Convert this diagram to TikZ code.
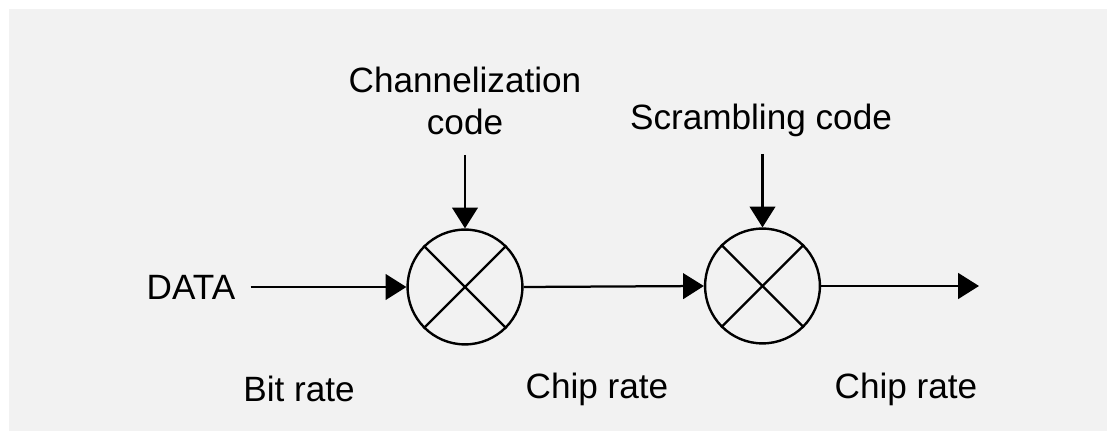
\documentclass[tikz,border=0pt]{standalone}
\usepackage{fontspec}
\setmainfont{Liberation Sans}
\usetikzlibrary{arrows.meta}
\tikzset{
	mixer/.style={draw,circle,line width=1.7pt,minimum size=2.87cm,inner sep=0pt},
	sig/.style={line width=1.6pt,-{Triangle[length=0.52cm,width=0.64cm]}},
	txt/.style={font=\fontsize{25}{29.5}\selectfont,inner sep=0pt,align=center}
}
\begin{document}
\begin{tikzpicture}[x=0.025cm,y=-0.025cm]
	% paper
	\useasboundingbox (0,0) rectangle (1107,431);
	\fill[black!5] (9,9) rectangle (1107,431);
	% multipliers
	\node[mixer] (m1) at (465,287) {};
	\node[mixer] (m2) at (762.5,286) {};
	\foreach \m in {m1,m2} {
		\draw[line width=1.6pt] (\m.45) -- (\m.225);
		\draw[line width=1.6pt] (\m.135) -- (\m.315);
	}
	% labels
	\node[txt] (data) at (191,287) {DATA};
	\node[txt] (chan) at (465,101) {Channelization\\code};
	\node[txt] (scr) at (761,120) {Scrambling code};
	\node[txt] (r1) at (299,389) {Bit rate};
	\node[txt] (r2) at (597,389) {Chip rate};
	\node[txt] (r3) at (906,389) {Chip rate};
	\coordinate (c1) at (465,155);
	\coordinate (c2) at (762.5,154);
	\coordinate (out) at (979,286);
	% signal path
	\draw[sig] (data.east)++(15,0) -- (m1.west);
	\draw[sig] (m1.east) -- (m2.west);
	\draw[sig] (m2.east) -- (out);
	\draw[sig] (c1) -- (m1.north);
	\draw[sig] (c2) -- (m2.north);
\end{tikzpicture}
\end{document}
